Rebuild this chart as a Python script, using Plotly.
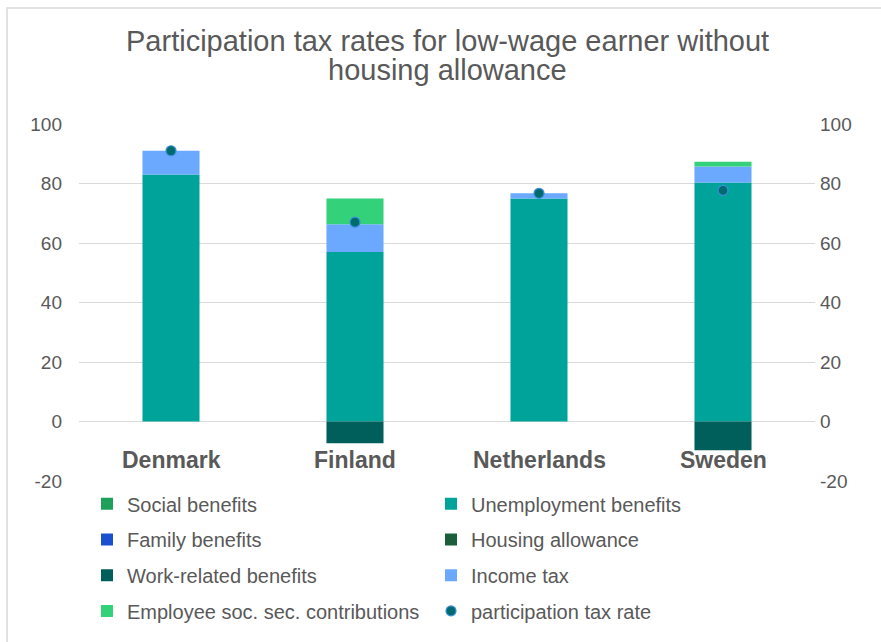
import plotly.graph_objects as go

# Participation tax rate decomposition, low-wage earner without housing allowance
countries = ["Denmark", "Finland", "Netherlands", "Sweden"]
social_benefits = [0, 0, 0, 0]
unemployment_benefits = [83.0, 57.0, 75.0, 80.3]
family_benefits = [0, 0, 0, 0]
housing_allowance = [0, 0, 0, 0]
work_related_benefits = [0, -7.3, 0, -9.7]
income_tax = [8.0, 9.3, 1.7, 5.4]
employee_ssc = [0, 8.7, 0, 1.6]
participation_tax_rate = [91.0, 67.0, 76.7, 77.7]

y_ticks = [-20, 0, 20, 40, 60, 80, 100]
y_tick_labels = ["-20", "0", "20", "40", "60", "80", "100"]

title_lines = ["Participation tax rates for low-wage earner without", "housing allowance"]

FONT = "Liberation Sans, Arial, sans-serif"
GREY = "#595959"

components = [
    ("Social benefits", social_benefits, "#1FA05A", "legend"),
    ("Unemployment benefits", unemployment_benefits, "#00A39A", "legend"),
    ("Family benefits", family_benefits, "#1C4FD0", "legend2"),
    ("Housing allowance", housing_allowance, "#1B5E3B", "legend2"),
    ("Work-related benefits", work_related_benefits, "#005F5A", "legend3"),
    ("Income tax", income_tax, "#6BA8FF", "legend3"),
    ("Employee soc. sec. contributions", employee_ssc, "#33D17A", "legend4"),
]

fig = go.Figure()
for name, vals, color, leg in components:
    fig.add_trace(go.Bar(
        x=countries, y=vals, name=name, legend=leg,
        marker=dict(color=color, line=dict(width=0)),
    ))

fig.add_trace(go.Scatter(
    x=countries, y=participation_tax_rate, name="participation tax rate",
    legend="legend4", mode="markers",
    marker=dict(size=10, color="#006B6E", line=dict(color="#3D8FDB", width=1.2)),
))

# secondary axis mirrors the primary scale on the right
fig.add_trace(go.Scatter(
    x=countries, y=participation_tax_rate, yaxis="y2", mode="markers",
    marker=dict(opacity=0), showlegend=False, hoverinfo="skip",
))

plot_left, plot_right, plot_top, plot_bottom = 79, 815, 124, 484
pw = plot_right - plot_left
ph = plot_bottom - plot_top

# category labels sit just below the zero line
for c in countries:
    fig.add_annotation(
        x=c, y=-13, xref="x", yref="y", text=f"<b>{c}</b>", showarrow=False,
        font=dict(family=FONT, size=23, color=GREY), yanchor="middle",
    )

# two-line chart title
for line, py in zip(title_lines, [40, 70]):
    fig.add_annotation(
        x=0.5, y=(plot_bottom - py) / ph, xref="paper", yref="paper",
        text=line, showarrow=False, xanchor="center", yanchor="middle",
        font=dict(family=FONT, size=29, color=GREY),
    )

# chart frame
fig.add_shape(
    type="rect", xref="paper", yref="paper",
    x0=(7 - plot_left) / pw, x1=(900 - plot_left) / pw,
    y0=(plot_bottom - 660) / ph, y1=(plot_bottom - 7) / ph,
    line=dict(color="#D9D9D9", width=1.5), fillcolor="rgba(0,0,0,0)", layer="below",
)

legend_common = dict(
    orientation="h", x=8 / pw, xanchor="left", yanchor="middle",
    font=dict(family=FONT, size=20, color=GREY),
    entrywidth=299, entrywidthmode="pixels", bgcolor="rgba(0,0,0,0)",
    itemclick=False, traceorder="normal", itemwidth=30,
)
rows_px = [507, 543, 579, 615]
legend_rows = {}
for i, key in enumerate(["legend", "legend2", "legend3", "legend4"]):
    legend_rows[key] = dict(legend_common, y=(plot_bottom - rows_px[i]) / ph)

axis_common = dict(
    range=[-20, 100], tickvals=y_ticks, ticktext=y_tick_labels,
    showline=False, zeroline=False,
    tickfont=dict(family=FONT, size=19, color=GREY), fixedrange=True,
)

fig.update_layout(
    width=881, height=642,
    margin=dict(l=plot_left, r=881 - plot_right, t=plot_top, b=642 - plot_bottom),
    paper_bgcolor="white", plot_bgcolor="white",
    barmode="relative", bargap=0.69,
    xaxis=dict(showticklabels=False, showgrid=False, showline=False, zeroline=False),
    yaxis=dict(axis_common, showgrid=True, gridcolor="#D9D9D9", gridwidth=1,
               ticklabelstandoff=16),
    yaxis2=dict(axis_common, overlaying="y", side="right", showgrid=False,
                ticklabelstandoff=4),
    showlegend=True,
    **legend_rows,
)

fig.write_html("out.html")
